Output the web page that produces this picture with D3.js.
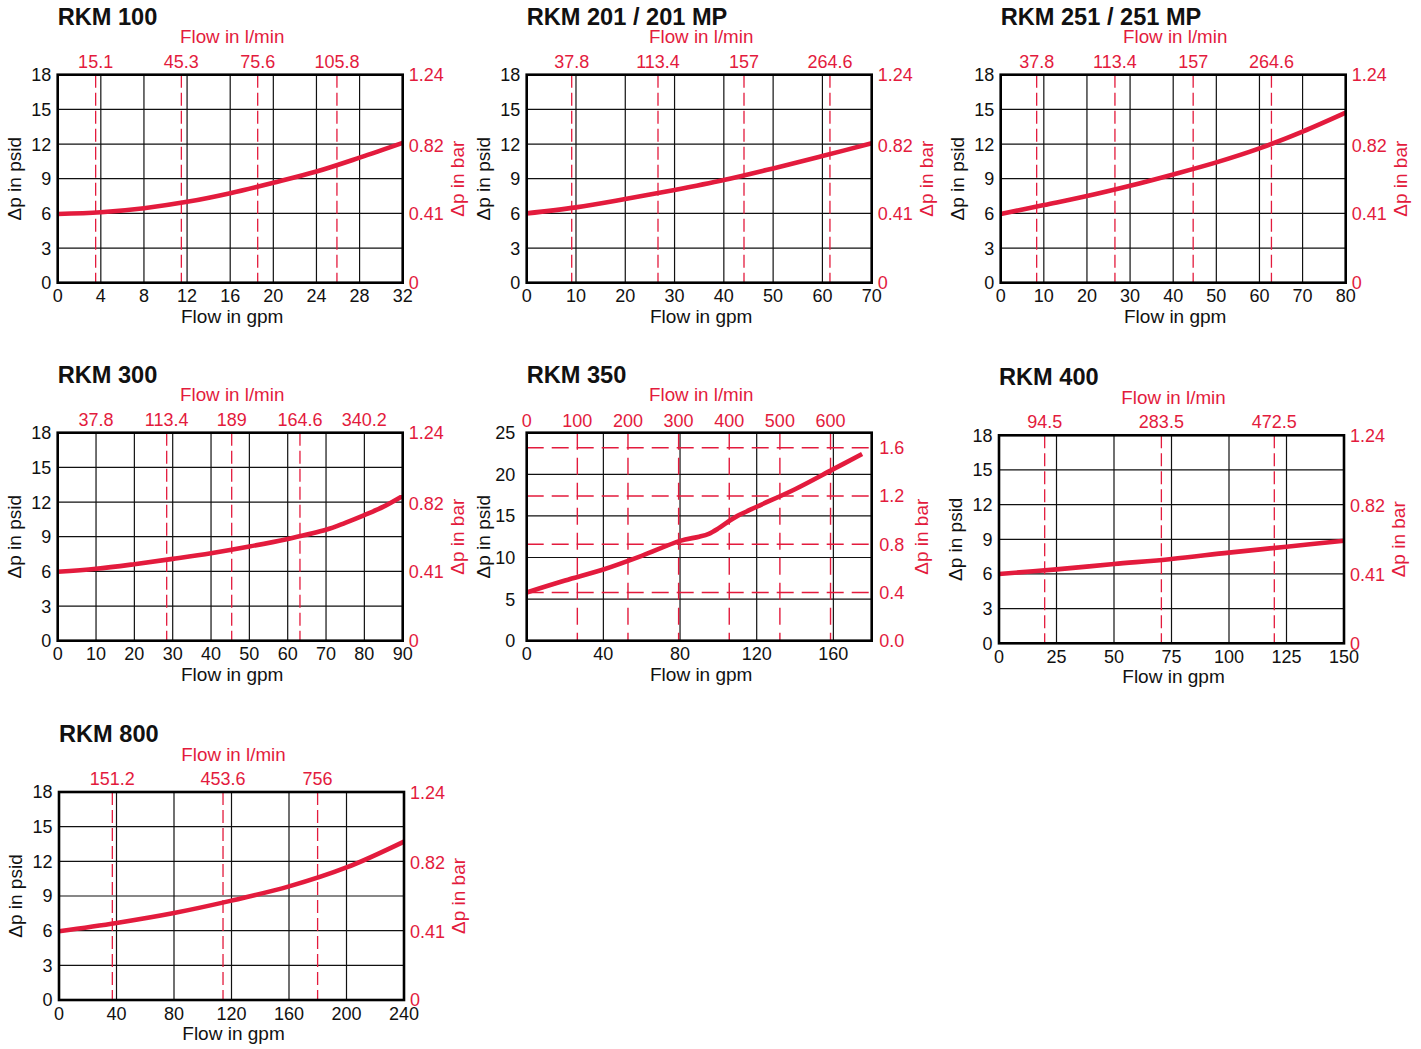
<!DOCTYPE html>
<html>
<head>
<meta charset="utf-8">
<script src="https://cdn.jsdelivr.net/npm/d3@7"></script>
<style>
  body { margin: 0; background: #fff; }
  svg { display: block; font-family: "Liberation Sans", Arial, Helvetica, sans-serif; }
</style>
</head>
<body>
<svg id="chart" width="1421" height="1049"></svg>
<script>
// ---- Pressure drop curves (flow in gpm, pressure drop in psid) ----
const rkm100Gpm  = [0, 4, 8, 12, 16, 20, 24, 28, 32];
const rkm100Psid = [5.95, 6.1, 6.45, 7.0, 7.75, 8.65, 9.62, 10.82, 12.1];
const rkm100LpmLabels = ["15.1", "45.3", "75.6", "105.8"];
const rkm100LpmAtGpm  = [3.52, 11.47, 18.55, 25.9];

const rkm201Gpm  = [0, 10, 20, 30, 40, 50, 60, 70];
const rkm201Psid = [6.0, 6.52, 7.24, 8.02, 8.88, 9.89, 10.96, 12.06];
const rkm201LpmLabels = ["37.8", "113.4", "157", "264.6"];
const rkm201LpmAtGpm  = [9.13, 26.64, 44.09, 61.53];

const rkm251Gpm  = [0, 10, 20, 30, 40, 50, 60, 70, 80];
const rkm251Psid = [5.95, 6.72, 7.5, 8.39, 9.37, 10.41, 11.62, 13.07, 14.71];
const rkm251LpmLabels = ["37.8", "113.4", "157", "264.6"];
const rkm251LpmAtGpm  = [8.34, 26.49, 44.63, 62.78];

const rkm300Gpm  = [0, 10, 20, 30, 40, 50, 60, 70, 75, 80, 85, 90];
const rkm300Psid = [5.96, 6.22, 6.62, 7.08, 7.57, 8.15, 8.81, 9.6, 10.2, 10.87, 11.6, 12.53];
const rkm300LpmLabels = ["37.8", "113.4", "189", "164.6", "340.2"];
const rkm300LpmAtGpm  = [10, 28.43, 45.39, 63.2, 80];
const rkm300DashAtGpm = [28.43, 45.39, 63.2];

const rkm350Gpm  = [0, 20, 40, 60, 80, 90, 95, 100, 106, 110, 120, 140, 160, 175];
const rkm350Psid = [5.8, 7.23, 8.56, 10.2, 12.0, 12.5, 12.85, 13.5, 14.45, 15.0, 16.1, 18.21, 20.62, 22.43];
const rkm350LpmTicks = [0, 100, 200, 300, 400, 500, 600];
const rkm350BarTicks = [0, 0.4, 0.8, 1.2, 1.6];

const rkm400Gpm  = [0, 25, 50, 75, 100, 125, 150];
const rkm400Psid = [6.0, 6.4, 6.86, 7.3, 7.85, 8.36, 8.88];
const rkm400LpmLabels = ["94.5", "283.5", "472.5"];
const rkm400LpmAtGpm  = [19.86, 70.6, 119.7];

const rkm800Gpm  = [0, 40, 80, 120, 160, 200, 240];
const rkm800Psid = [5.95, 6.67, 7.53, 8.6, 9.83, 11.47, 13.71];
const rkm800LpmLabels = ["151.2", "453.6", "756"];
const rkm800LpmAtGpm  = [37.1, 114.1, 179.9];

// Shared axis ticks
const psidTicks18 = [0, 3, 6, 9, 12, 15, 18];
const psidTicks25 = [0, 5, 10, 15, 20, 25];
const barTicks18 = [0, 0.41, 0.82, 1.24];
const barLabels18 = ["0", "0.41", "0.82", "1.24"];

const PSI_PER_BAR = 14.5;
const LPM_PER_GPM = 3.785;

const RED = "#e31b3d";
const W = 345, H = 208;

const panels = [
  { title: "RKM 100", left: 57.7, top: 74.7, xMax: 32, xTicks: d3.range(0, 33, 4),
    gpm: rkm100Gpm, psid: rkm100Psid, lpmLabels: rkm100LpmLabels, lpmAt: rkm100LpmAtGpm, dashAt: rkm100LpmAtGpm },
  { title: "RKM 201 / 201 MP", left: 526.7, top: 74.7, xMax: 70, xTicks: d3.range(0, 71, 10),
    gpm: rkm201Gpm, psid: rkm201Psid, lpmLabels: rkm201LpmLabels, lpmAt: rkm201LpmAtGpm, dashAt: rkm201LpmAtGpm },
  { title: "RKM 251 / 251 MP", left: 1000.7, top: 74.7, xMax: 80, xTicks: d3.range(0, 81, 10),
    gpm: rkm251Gpm, psid: rkm251Psid, lpmLabels: rkm251LpmLabels, lpmAt: rkm251LpmAtGpm, dashAt: rkm251LpmAtGpm },
  { title: "RKM 300", left: 57.7, top: 432.7, xMax: 90, xTicks: d3.range(0, 91, 10),
    gpm: rkm300Gpm, psid: rkm300Psid, lpmLabels: rkm300LpmLabels, lpmAt: rkm300LpmAtGpm, dashAt: rkm300DashAtGpm },
  { title: "RKM 350", left: 526.7, top: 432.7, xMax: 180, xTicks: [0, 40, 80, 120, 160],
    gpm: rkm350Gpm, psid: rkm350Psid, wide: true },
  { title: "RKM 400", left: 999, top: 435.3, xMax: 150, xTicks: d3.range(0, 151, 25),
    gpm: rkm400Gpm, psid: rkm400Psid, lpmLabels: rkm400LpmLabels, lpmAt: rkm400LpmAtGpm, dashAt: rkm400LpmAtGpm },
  { title: "RKM 800", left: 59, top: 792, xMax: 240, xTicks: d3.range(0, 241, 40),
    gpm: rkm800Gpm, psid: rkm800Psid, lpmLabels: rkm800LpmLabels, lpmAt: rkm800LpmAtGpm, dashAt: rkm800LpmAtGpm }
];

const svg = d3.select("#chart");

function drawPanel(p) {
  const g = svg.append("g").attr("transform", `translate(${p.left},${p.top})`);
  const yMax = p.wide ? 25 : 18;
  const yTicks = p.wide ? psidTicks25 : psidTicks18;

  const x = d3.scaleLinear().domain([0, p.xMax]).range([0, W]);
  const y = d3.scaleLinear().domain([0, yMax]).range([H, 0]);
  const yBar = d3.scaleLinear().domain([0, yMax / PSI_PER_BAR]).range([H, 0]);
  const xLpm = d3.scaleLinear().domain([0, p.xMax * LPM_PER_GPM]).range([0, W]);

  // grid
  g.append("g").selectAll("line")
    .data(p.xTicks.filter(v => v > 0 && v < p.xMax))
    .join("line")
    .attr("x1", d => x(d)).attr("x2", d => x(d))
    .attr("y1", 0).attr("y2", H)
    .attr("stroke", "#111").attr("stroke-width", 1.2);
  g.append("g").selectAll("line")
    .data(yTicks.filter(v => v > 0 && v < yMax))
    .join("line")
    .attr("x1", 0).attr("x2", W)
    .attr("y1", d => y(d)).attr("y2", d => y(d))
    .attr("stroke", "#111").attr("stroke-width", 1.2);

  // red dashed l/min and bar reference lines
  const dashG = g.append("g").attr("stroke", RED).attr("fill", "none");
  if (p.wide) {
    dashG.selectAll("line.v")
      .data(rkm350LpmTicks.filter(v => v > 0))
      .join("line").attr("class", "v")
      .attr("x1", d => xLpm(d)).attr("x2", d => xLpm(d))
      .attr("y1", 0).attr("y2", H)
      .attr("stroke-width", 1.4).attr("stroke-dasharray", "17,8");
    dashG.selectAll("line.h")
      .data(rkm350BarTicks.filter(v => v > 0))
      .join("line").attr("class", "h")
      .attr("x1", 0).attr("x2", W)
      .attr("y1", d => yBar(d)).attr("y2", d => yBar(d))
      .attr("stroke-width", 1.4).attr("stroke-dasharray", "17,8");
  } else {
    dashG.selectAll("line")
      .data(p.dashAt)
      .join("line")
      .attr("x1", d => x(d)).attr("x2", d => x(d))
      .attr("y1", 0).attr("y2", H)
      .attr("stroke-width", 1.3).attr("stroke-dasharray", "13,5");
  }

  // pressure drop curve
  const line = d3.line()
    .x(d => x(d[0])).y(d => y(d[1]))
    .curve(d3.curveCatmullRom.alpha(0.5));
  g.append("path")
    .datum(d3.zip(p.gpm, p.psid))
    .attr("d", line)
    .attr("fill", "none")
    .attr("stroke", RED)
    .attr("stroke-width", 4.6);

  // frame
  g.append("rect")
    .attr("x", 0).attr("y", 0).attr("width", W).attr("height", H)
    .attr("fill", "none").attr("stroke", "#000").attr("stroke-width", 2.6);

  // left psid ticks
  g.append("g").selectAll("text")
    .data(yTicks).join("text")
    .attr("x", p.wide ? -11.5 : -6.5)
    .attr("y", d => y(d)).attr("dy", "0.36em")
    .attr("text-anchor", "end")
    .attr("font-size", 18).attr("fill", "#111")
    .text(d => d);

  // bottom gpm ticks
  g.append("g").selectAll("text")
    .data(p.xTicks).join("text")
    .attr("x", d => x(d)).attr("y", H + 19.5)
    .attr("text-anchor", "middle")
    .attr("font-size", 18).attr("fill", "#111")
    .text(d => d);

  // right bar ticks
  const barT = p.wide ? rkm350BarTicks : barTicks18;
  const barL = p.wide ? rkm350BarTicks.map(d3.format(".1f")) : barLabels18;
  g.append("g").selectAll("text")
    .data(barT).join("text")
    .attr("x", W + (p.wide ? 7.5 : 6))
    .attr("y", d => yBar(d)).attr("dy", "0.36em")
    .attr("text-anchor", "start")
    .attr("font-size", 18).attr("fill", RED)
    .text((d, i) => barL[i]);

  // top l/min ticks
  if (p.wide) {
    g.append("g").selectAll("text")
      .data(rkm350LpmTicks).join("text")
      .attr("x", d => xLpm(d)).attr("y", -6)
      .attr("text-anchor", "middle")
      .attr("font-size", 18).attr("fill", RED)
      .text(d => d);
  } else {
    g.append("g").selectAll("text")
      .data(p.lpmAt).join("text")
      .attr("x", d => x(d)).attr("y", -7)
      .attr("text-anchor", "middle")
      .attr("font-size", 18).attr("fill", RED)
      .text((d, i) => p.lpmLabels[i]);
  }

  // titles
  g.append("text")
    .attr("x", 0).attr("y", -50)
    .attr("font-size", 23.6).attr("font-weight", "bold").attr("fill", "#111")
    .text(p.title);
  g.append("text")
    .attr("x", W / 2 + 2).attr("y", -31.5)
    .attr("text-anchor", "middle")
    .attr("font-size", 18.8).attr("fill", RED)
    .text("Flow in l/min");
  g.append("text")
    .attr("x", W / 2 + 2).attr("y", H + 40)
    .attr("text-anchor", "middle")
    .attr("font-size", 19).attr("fill", "#111")
    .text("Flow in gpm");
  g.append("text")
    .attr("transform", `translate(-37,${H / 2}) rotate(-90)`)
    .attr("text-anchor", "middle")
    .attr("font-size", 19).attr("fill", "#111")
    .text("Δp in psid");
  g.append("text")
    .attr("transform", `translate(${W + (p.wide ? 56 : 61)},${H / 2}) rotate(-90)`)
    .attr("text-anchor", "middle")
    .attr("font-size", 19).attr("fill", RED)
    .text("Δp in bar");
}

panels.forEach(drawPanel);
</script>
</body>
</html>
